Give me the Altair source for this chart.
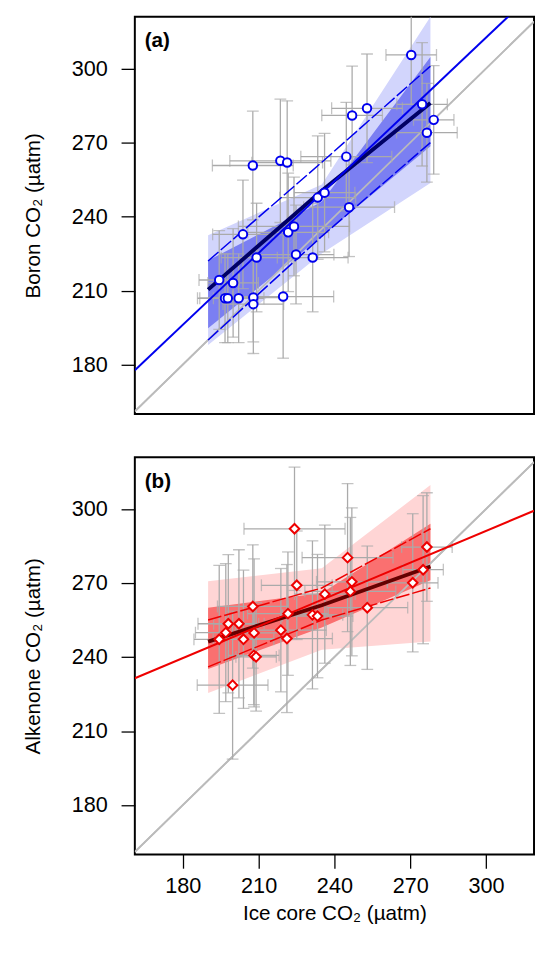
import altair as alt
import pandas as pd

# Panel (a) boron
a_x = [270.4,252.9,247.0,274.7,279.3,276.6,207.7,218.6,221.3,244.7,233.4,236.1,245.8,203.8,221.7,224.0,209.2,224.8,231.4,194.4,199.9,196.7,197.8,202.1,207.9,207.9,219.7]
a_y = [305.5,283.9,281.0,285.5,279.2,274.0,260.7,262.6,261.9,264.3,247.7,249.7,243.8,232.8,233.6,236.0,223.4,224.6,223.4,214.3,213.1,206.9,206.9,206.9,207.2,204.5,207.6]
a_xe = [10,14,12,10,8,12,16,20,14,18,15,12,18,12,16,22,14,15,14,8,10,10,12,10,12,12,20]
a_ye = [20,22,20,25,22,20,22,25,25,22,25,24,20,22,24,20,22,20,22,20,22,18,18,18,18,20,25]
# Panel (b) alkenone
b_x = [224.2,225.1,245.2,276.6,275.1,271.0,246.9,246.3,236.2,253.0,207.7,221.6,231.3,233.3,198.0,202.2,197.0,208.2,218.8,194.4,204.0,221.2,208.1,209.0,199.7]
b_y = [292.0,269.1,280.3,284.6,275.4,270.1,270.5,266.6,265.5,260.0,260.5,257.6,257.1,256.6,253.5,253.5,249.9,249.8,250.9,247.2,247.2,247.5,240.7,240.1,228.6]
b_xe = [20,14,18,10,8,10,14,18,12,16,14,16,12,14,12,10,12,10,18,10,12,18,10,8,14]
b_ye = [25,22,30,22,30,28,30,30,28,25,25,25,30,25,28,30,28,30,25,30,28,30,20,22,30]

# fit lines and bands
fit_x = [190, 235, 278]
a_fit = [210.4, 250.5, 286.0]
a_dark_lo = [194.7, 232.0, 268.5]
a_dark_hi = [222.2, 246.0, 304.7]
a_light_lo = [188.0, 225.0, 253.6]
a_light_hi = [232.4, 253.0, 321.0]
a_hi_line = [222.0, 262.0, 301.0]
a_lo_line = [190.0, 232.0, 270.0]
b_fit = [246.3, 261.0, 276.7]
b_dark_lo = [235.2, 252.0, 271.1]
b_dark_hi = [260.0, 266.0, 294.0]
b_light_lo = [225.4, 243.0, 246.3]
b_light_hi = [270.7, 276.0, 309.7]
b_hi_line = [255.0, 268.0, 292.0]
b_lo_line = [236.0, 255.0, 268.0]
reg_x = [161, 319]
a_reg = [177.7, 331.0]
b_reg = [231.4, 299.3]

XD, YD = [161, 319], [160, 321]
FONT = "Liberation Sans"

def panel(px, py, pxe, pye, fit, dlo, dhi, llo, lhi, hl, ll, reg, col, light, dark, deep, shape, label, ytitle, bottom):
    pts = pd.DataFrame({"x": px, "y": py, "xlo": [a - b for a, b in zip(px, pxe)], "xhi": [a + b for a, b in zip(px, pxe)],
                        "ylo": [a - b for a, b in zip(py, pye)], "yhi": [a + b for a, b in zip(py, pye)]})
    band = pd.DataFrame({"x": fit_x, "fit": fit, "dlo": dlo, "dhi": dhi, "llo": llo, "lhi": lhi, "hl": hl, "ll": ll})
    regd = pd.DataFrame({"x": reg_x, "y": reg})
    one = pd.DataFrame({"x": [161, 319], "y": [161, 319]})
    xax = alt.Axis(title="Ice core CO₂  (µatm)", values=[180, 210, 240, 270, 300], grid=False, tickSize=14,
                   labelFontSize=22, titleFontSize=21, labelPadding=8, titlePadding=6, labelFont=FONT, titleFont=FONT,
                   domain=False, tickColor="black", labelColor="black", tickWidth=1.3, titleFontWeight="normal") if bottom else \
        alt.Axis(title=None, labels=False, ticks=False, domain=False, grid=False)
    yax = alt.Axis(title=ytitle, values=[180, 210, 240, 270, 300], grid=False, tickSize=14, labelFontSize=22,
                   titleFontSize=21, labelPadding=14, titlePadding=28, labelFont=FONT, titleFont=FONT, domain=False,
                   tickColor="black", labelColor="black", tickWidth=1.3, titleFontWeight="normal")
    X = alt.X("x:Q", scale=alt.Scale(domain=XD, nice=False), axis=xax)
    Y = alt.Y("y:Q", scale=alt.Scale(domain=YD, nice=False), axis=yax)
    Xs = alt.X("x:Q", scale=alt.Scale(domain=XD, nice=False))
    layers = [
        alt.Chart(one).mark_line(color="#bbbbbb", strokeWidth=1.8, clip=True).encode(x=X, y=Y),
        alt.Chart(band).mark_area(color=light, opacity=1, clip=True).encode(x=Xs, y=alt.Y("llo:Q"), y2="lhi:Q"),
        alt.Chart(band).mark_area(color=dark, opacity=1, clip=True).encode(x=Xs, y=alt.Y("dlo:Q"), y2="dhi:Q"),
        alt.Chart(one).mark_line(color="#bbbbbb", strokeWidth=1.8, clip=True).encode(x=Xs, y="y:Q"),
        alt.Chart(pts).mark_rule(color="#aaaaaa", strokeWidth=1.3, clip=True).encode(x=Xs, y=alt.Y("ylo:Q"), y2="yhi:Q"),
        alt.Chart(pts).mark_rule(color="#aaaaaa", strokeWidth=1.3, clip=True).encode(x=alt.X("xlo:Q"), x2="xhi:Q", y=alt.Y("y:Q")),
        alt.Chart(pts).mark_tick(color="#aaaaaa", orient="horizontal", size=12, thickness=1.3, clip=True).encode(x=Xs, y="ylo:Q"),
        alt.Chart(pts).mark_tick(color="#aaaaaa", orient="horizontal", size=12, thickness=1.3, clip=True).encode(x=Xs, y="yhi:Q"),
        alt.Chart(pts).mark_tick(color="#aaaaaa", orient="vertical", size=12, thickness=1.3, clip=True).encode(x="xlo:Q", y="y:Q"),
        alt.Chart(pts).mark_tick(color="#aaaaaa", orient="vertical", size=12, thickness=1.3, clip=True).encode(x="xhi:Q", y="y:Q"),
        alt.Chart(band).mark_line(color=col, strokeWidth=1.5, strokeDash=[14, 3], clip=True).encode(x=Xs, y="hl:Q"),
        alt.Chart(band).mark_line(color=col, strokeWidth=1.5, strokeDash=[14, 3], clip=True).encode(x=Xs, y="ll:Q"),
        alt.Chart(band).mark_line(color=deep, strokeWidth=4, clip=True).encode(x=Xs, y="fit:Q"),
        alt.Chart(regd).mark_line(color=col, strokeWidth=2, clip=True).encode(x=Xs, y="y:Q"),
        alt.Chart(pts).mark_point(shape=shape, filled=True, fill="white", stroke=col, strokeWidth=2, size=75 if shape == "circle" else 95, opacity=1, clip=True).encode(x=Xs, y="y:Q"),
        alt.Chart(pd.DataFrame({"t": [label]})).mark_text(fontSize=21, fontWeight="bold", font=FONT, align="left", baseline="top", color="black").encode(x=alt.value(10), y=alt.value(14), text="t:N"),
    ]
    return alt.layer(*layers).properties(width=406, height=404)

pa = panel(a_x, a_y, a_xe, a_ye, a_fit, a_dark_lo, a_dark_hi, a_light_lo, a_light_hi, a_hi_line, a_lo_line, a_reg,
           "#0000ee", "#d2d5fc", "#7b7ff2", "#000066", "circle", "(a)", "Boron CO₂ (µatm)", False)
pb = panel(b_x, b_y, b_xe, b_ye, b_fit, b_dark_lo, b_dark_hi, b_light_lo, b_light_hi, b_hi_line, b_lo_line, b_reg,
           "#ee0000", "#ffd5d5", "#fa7070", "#660000", "diamond", "(b)", "Alkenone CO₂ (µatm)", True)

chart = alt.vconcat(pa, pb, spacing=42, padding={"left": 14, "top": 0, "right": 0, "bottom": 0}).configure_view(stroke="black", strokeWidth=2)
chart.save("out.html", embed_options={"renderer": "svg", "actions": False})
